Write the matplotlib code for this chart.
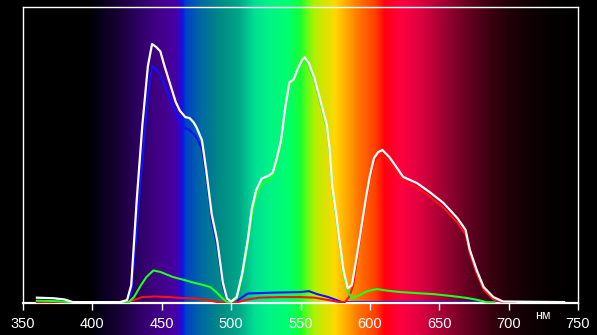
from __future__ import annotations

import matplotlib

matplotlib.use("Agg")
import matplotlib.pyplot as plt
import numpy as np
from matplotlib.colors import LinearSegmentedColormap

# --- data (wavelength in nm, relative level) ---
white_nm = [360, 372, 380, 386, 420, 425, 428, 432, 436, 440, 443, 446, 449, 452, 456,
            460, 463, 467, 470, 473, 475, 479, 482, 486, 490, 494, 497, 500, 504, 508,
            512, 515, 518, 522, 527, 530, 533, 536, 539, 542, 545, 548, 551, 553, 556,
            560, 564, 569, 571, 573, 576, 578, 581, 584, 587, 591, 594, 597, 600, 603,
            606, 609, 614, 619, 624, 634, 643, 653, 663, 669, 672, 677, 682, 689, 696, 740]
white_val = [0.018, 0.016, 0.012, 0.003, 0.003, 0.01, 0.06, 0.35, 0.60, 0.80, 0.875, 0.865,
             0.85, 0.80, 0.74, 0.68, 0.65, 0.628, 0.625, 0.61, 0.594, 0.55, 0.45, 0.30, 0.21,
             0.07, 0.015, 0.005, 0.02, 0.10, 0.213, 0.32, 0.38, 0.42, 0.43, 0.44, 0.49, 0.55,
             0.66, 0.745, 0.755, 0.79, 0.82, 0.83, 0.81, 0.76, 0.69, 0.60, 0.52, 0.39, 0.29,
             0.213, 0.11, 0.05, 0.06, 0.17, 0.26, 0.35, 0.43, 0.49, 0.51, 0.517, 0.493, 0.46,
             0.426, 0.405, 0.375, 0.338, 0.287, 0.247, 0.18, 0.111, 0.054, 0.02, 0.005, 0.003]

blue_nm = [360, 385, 424, 428, 432, 436, 440, 443, 446, 449, 456, 463, 467, 470, 475, 479,
           482, 486, 490, 494, 497, 500, 505, 512, 530, 550, 556, 562, 570, 580, 705]
blue_val = [0.005, 0.003, 0.003, 0.03, 0.25, 0.48, 0.70, 0.80, 0.79, 0.77, 0.69, 0.61, 0.59,
            0.585, 0.56, 0.52, 0.43, 0.28, 0.19, 0.06, 0.01, 0.005, 0.01, 0.032, 0.035, 0.037,
            0.04, 0.03, 0.02, 0.003, 0.003]

green_nm = [360, 375, 385, 426, 430, 435, 439, 444, 449, 458, 466, 472, 479, 485, 490, 494,
            497, 500, 504, 508, 512, 515, 518, 522, 527, 530, 533, 536, 539, 542, 545, 548,
            551, 553, 556, 560, 564, 569, 571, 573, 576, 578, 581, 584, 587, 592, 598, 605,
            612, 622, 635, 646, 658, 670, 678, 684, 690]
green_val = [0.008, 0.006, 0.002, 0.002, 0.02, 0.06, 0.088, 0.11, 0.105, 0.088, 0.078, 0.07,
             0.062, 0.054, 0.034, 0.015, 0.003, 0.003, 0.015, 0.09, 0.20, 0.30, 0.36, 0.40,
             0.415, 0.43, 0.48, 0.54, 0.65, 0.735, 0.745, 0.78, 0.81, 0.82, 0.80, 0.75, 0.68,
             0.59, 0.51, 0.38, 0.28, 0.20, 0.10, 0.04, 0.017, 0.025, 0.04, 0.047, 0.042, 0.037,
             0.033, 0.03, 0.024, 0.017, 0.01, 0.003, 0.002]

red_nm = [360, 425, 430, 436, 445, 455, 465, 475, 485, 490, 505, 512, 520, 535, 550, 560,
          570, 578, 582, 585, 588, 591, 594, 597, 600, 603, 606, 609, 614, 619, 624, 634,
          643, 653, 663, 669, 672, 677, 682, 689, 696, 705]
red_val = [0.003, 0.003, 0.01, 0.02, 0.022, 0.02, 0.017, 0.015, 0.008, 0.003, 0.003, 0.012,
           0.018, 0.02, 0.02, 0.018, 0.01, 0.003, 0.003, 0.02, 0.06, 0.16, 0.25, 0.34, 0.42,
           0.475, 0.495, 0.50, 0.478, 0.445, 0.41, 0.39, 0.36, 0.322, 0.272, 0.232, 0.168,
           0.10, 0.045, 0.012, 0.003, 0.003]

tick_values = [350, 400, 450, 500, 550, 600, 650, 700, 750]
unit_label = "нм"

# background spectrum stops (nm, colour)
SPECTRUM = [
    (333, "#000000"), (398, "#000000"), (406, "#07001a"), (420, "#1a0038"),
    (431, "#2a005c"), (441, "#3a0078"), (449, "#420088"), (460, "#4800a4"),
    (463, "#3008c8"), (465, "#0818e8"), (467, "#0040c8"), (478, "#0068a4"),
    (492, "#008a84"), (506, "#00a888"), (517, "#00e094"), (528, "#00f484"),
    (542, "#00ff6c"), (550, "#18ff30"), (553, "#48ff20"), (560, "#b0f000"),
    (575, "#ffd800"), (582, "#ffb000"), (593, "#ff7000"), (604, "#ff4000"),
    (611, "#ff0010"), (622, "#ff0040"), (636, "#e00040"), (651, "#a80034"),
    (658, "#900030"), (672, "#600020"), (687, "#3a0010"), (701, "#200008"),
    (715, "#100004"), (730, "#050000"), (748, "#000000"), (764, "#000000"),
]

W, H = 597, 335
LEFT, RIGHT, TOP, BOTTOM = 23, 578, 7, 303  # plot box in pixels


def main() -> None:
    fig = plt.figure(figsize=(W / 100, H / 100), dpi=100, facecolor="black")

    # nm per pixel so the background lines up with the plot box
    npp = (tick_values[-1] - tick_values[0]) / (RIGHT - LEFT)
    x0 = tick_values[0] - LEFT * npp
    x1 = x0 + W * npp

    bg = fig.add_axes([0, 0, 1, 1])
    bg.set_axis_off()
    lo, hi = SPECTRUM[0][0], SPECTRUM[-1][0]
    cmap = LinearSegmentedColormap.from_list(
        "spec", [((w - lo) / (hi - lo), c) for w, c in SPECTRUM], N=1024
    )
    grad = np.linspace(x0, x1, 1200)[None, :]
    bg.imshow(grad, cmap=cmap, vmin=lo, vmax=hi, aspect="auto", extent=(x0, x1, 0, 1))
    bg.set_xlim(x0, x1)
    bg.set_ylim(0, 1)

    ax = fig.add_axes([LEFT / W, 1 - BOTTOM / H, (RIGHT - LEFT) / W, (BOTTOM - TOP) / H])
    ax.set_facecolor("none")
    ax.set_xlim(tick_values[0], tick_values[-1])
    ax.set_ylim(0, 1)

    ax.plot(blue_nm, blue_val, color="#1010ff", lw=1.5, zorder=2)
    ax.plot(red_nm, red_val, color="#ff1010", lw=1.5, zorder=3)
    ax.plot(green_nm, green_val, color="#20ff20", lw=1.5, zorder=4)
    ax.plot(white_nm, white_val, color="white", lw=1.6, zorder=5)

    for s in ax.spines.values():
        s.set_color("white")
        s.set_linewidth(1.0)
    ax.spines["bottom"].set_linewidth(1.6)

    ax.set_xticks(tick_values)
    ax.set_xticklabels([str(t) for t in tick_values])
    ax.set_yticks([])
    ax.tick_params(axis="x", colors="white", length=5, width=1, direction="out", pad=5,
                   labelsize=10.5)
    for lab in ax.get_xticklabels():
        lab.set_fontfamily("Liberation Sans")

    ax.text(724.5, -0.045, unit_label, color="white", fontsize=9, family="Liberation Sans",
            ha="center", va="center", clip_on=False)

    fig.savefig("out.png", dpi=100, facecolor="black")
    plt.close(fig)


if __name__ == "__main__":
    main()
